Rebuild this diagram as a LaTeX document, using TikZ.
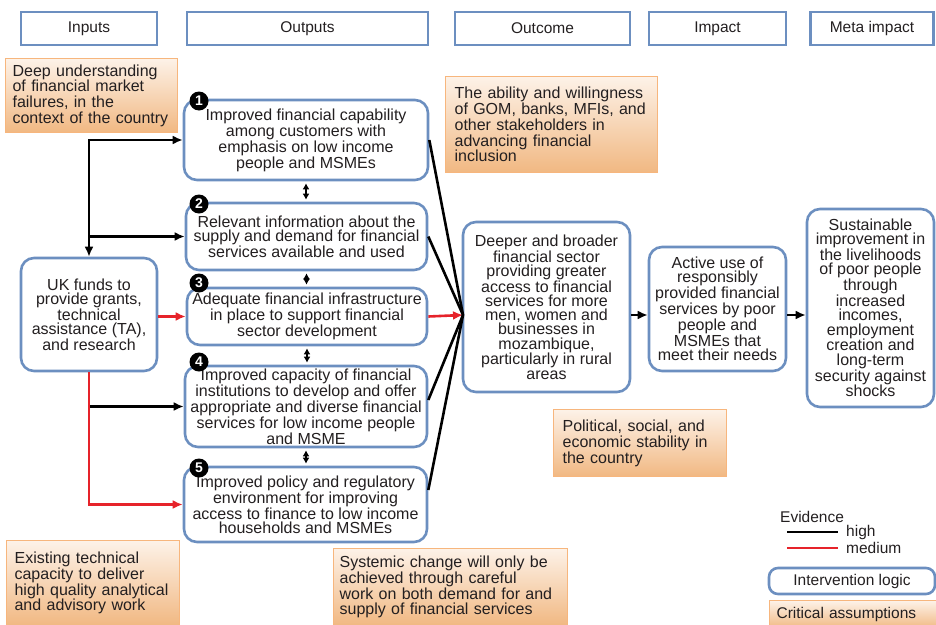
\documentclass[tikz,border=0pt]{standalone}
\usepackage{fontspec}
\setmainfont{Liberation Sans}
\usetikzlibrary{arrows.meta}
\definecolor{logicblue}{RGB}{108,143,192}
\definecolor{textgray}{RGB}{35,31,32}
\definecolor{assumtop}{RGB}{253,242,232}
\definecolor{assumbottom}{RGB}{241,184,130}
\definecolor{assumborder}{RGB}{247,182,125}
\definecolor{mediumred}{RGB}{230,35,42}
\tikzset{
		% Box styles: headers, intervention logic, critical assumptions
		header node/.style={draw=logicblue,line width=2.6pt,minimum height=33pt,inner sep=0pt,text=textgray,font=\fontsize{15.5}{16}\selectfont},
		logic node/.style={draw=logicblue,line width=2.6pt,rounded corners=13pt,fill=white,align=center,inner sep=0pt,text=textgray,font=\fontsize{16}{14.2}\selectfont},
		assumption node/.style={draw=assumborder,line width=1.2pt,top color=assumtop,bottom color=assumbottom,anchor=north west,align=left,inner xsep=7pt,inner ysep=0pt,text=textgray,font=\fontsize{16}{15.8}\selectfont},
		number node/.style={circle,fill=black,inner sep=0pt,minimum size=19pt,text=white,font=\bfseries\fontsize{14}{14}\selectfont},
		legend node/.style={inner sep=0pt,text=textgray,font=\fontsize{15.5}{16}\selectfont},
		% Two link styles for the evidence: high and medium
		high link/.style={draw,black,line width=2.6pt},
		medium link/.style={draw,mediumred,line width=2.6pt},
		both link/.style={draw,black,line width=2pt,{Latex[length=6pt,width=7pt]}-{Latex[length=6pt,width=7pt]},shorten <=2pt,shorten >=2pt}
	}
\begin{document}
\begin{tikzpicture}[x=1pt,y=-1pt,>={Latex[length=10pt,width=9pt]}]
		\useasboundingbox (0,0) rectangle (936,624);
		\clip (0,0) rectangle (936,624);
		% column headers
		\node[header node,minimum width=136pt] (hinputs) at (89,28.5) {Inputs};
		\node[header node,minimum width=241pt] (houtputs) at (307.5,28.5) {Outputs};
		\node[header node,minimum width=175pt] (houtcome) at (542.5,28.5) {Outcome};
		\node[header node,minimum width=137pt] (himpact) at (717.5,28.5) {Impact};
		\node[header node,minimum width=123pt] (hmeta) at (872,28.5) {Meta impact};
		% critical assumptions
		\node[assumption node,minimum width=172pt,minimum height=74pt,text width=158pt] (ass1) at (5,58) {Deep understanding\\of financial market\\failures, in the\\context of the country};
		\node[assumption node,minimum width=212pt,minimum height=96pt,text width=194pt,inner xsep=9pt] (ass2) at (445,76) {The ability and willingness\\of GOM, banks, MFIs, and\\other stakeholders in\\advancing financial\\inclusion};
		\node[assumption node,minimum width=173pt,minimum height=67pt,text width=155pt,inner xsep=9pt] (ass3) at (553,409) {Political, social, and\\economic stability in\\the country};
		\node[assumption node,minimum width=173pt,minimum height=85pt,text width=157pt,inner xsep=8pt] (ass4) at (6,540) {Existing technical\\capacity to deliver\\high quality analytical\\and advisory work};
		\node[assumption node,minimum width=234pt,minimum height=77pt,text width=222pt,inner xsep=6pt] (ass5) at (333,548) {Systemic change will only be\\achieved through careful\\work on both demand for and\\supply of financial services};
		% inputs
		\node[logic node,minimum width=136pt,minimum height=113pt] (input) at (89,314.5) {UK funds to\\provide grants,\\technical\\assistance (TA),\\and research};
		% outputs
		\node[logic node,minimum width=244pt,minimum height=80pt] (out1) at (306,140) {Improved financial capability\\among customers with\\emphasis on low income\\people and MSMEs};
		\node[logic node,minimum width=241pt,minimum height=67pt] (out2) at (306.5,236.5) {Relevant information about the\\supply and demand for financial\\services available and used};
		\node[logic node,minimum width=240pt,minimum height=57pt] (out3) at (307,316.5) {Adequate financial infrastructure\\in place to support financial\\sector development};
		\node[logic node,minimum width=242pt,minimum height=81pt] (out4) at (306,406.5) {Improved capacity of financial\\institutions to develop and offer\\appropriate and diverse financial\\services for low income people\\and MSME};
		\node[logic node,minimum width=243pt,minimum height=75pt] (out5) at (305.5,504.5) {Improved policy and regulatory\\environment for improving\\access to finance to low income\\households and MSMEs};
		\node[number node] (num1) at (199,101) {1};
		\node[number node] (num2) at (199,204) {2};
		\node[number node] (num3) at (199,283) {3};
		\node[number node] (num4) at (199,362) {4};
		\node[number node] (num5) at (199,468) {5};
		% outcome, impact, meta impact
		\node[logic node,minimum width=167pt,minimum height=170pt] (outcome) at (546.5,307) {Deeper and broader\\financial sector\\providing greater\\access to financial\\services for more\\men, women and\\businesses in\\mozambique,\\particularly in rural\\areas};
		\node[logic node,minimum width=137pt,minimum height=124pt] (impact) at (717.5,309) {Active use of\\responsibly\\provided financial\\services by poor\\people and\\MSMEs that\\meet their needs};
		\node[logic node,minimum width=127pt,minimum height=198pt] (meta) at (870.5,308) {Sustainable\\improvement in\\the livelihoods\\of poor people\\through\\increased\\incomes,\\employment\\creation and\\long-term\\security against\\shocks};
		\coordinate (conv) at (463,315);
		% links from the inputs
		\draw[high link,<->] (input.north) |- (out1.west);
		\draw[high link,->] (input.north |- out2.west) -- (out2.west);
		\draw[medium link,->] (input.east |- out3.west) -- (out3.west);
		\draw[high link,->] (input.south |- out4.west) -- (out4.west);
		\draw[medium link,->] (input.south) |- (out5.west);
		% links between the outputs
		\draw[both link] (out1.south) -- (out1.south |- out2.north);
		\draw[both link] (out2.north |- out2.south) -- (out2.north |- out3.north);
		\draw[both link] (out3.north |- out3.south) -- (out3.north |- out4.north);
		\draw[both link] (out4.south) -- (out4.south |- out5.north);
		% links to the outcome
		\draw[high link] (out1.east) -- (conv);
		\draw[high link] (out2.east) -- (conv);
		\draw[medium link,->] (out3.east) -- (conv);
		\draw[high link] ([yshift=6.5pt]out4.east) -- (conv);
		\draw[high link] ([yshift=14.5pt]out5.east) -- (conv);
		\draw[high link,->] (outcome.east |- conv) -- (impact.west |- conv);
		\draw[high link,->] (impact.east |- conv) -- (meta.west |- conv);
		% legend
		\node[legend node,anchor=west] (evidence) at (780,517) {Evidence};
		\coordinate (high a) at (787,532);
		\coordinate (high b) at (838,532);
		\coordinate (medium a) at (787,548);
		\coordinate (medium b) at (838,548);
		\draw[high link,line width=2pt] (high a) -- (high b);
		\draw[medium link,line width=2pt] (medium a) -- (medium b);
		\node[legend node,anchor=west] (high lbl) at (846,532) {high};
		\node[legend node,anchor=west] (medium lbl) at (846,548) {medium};
		\node[logic node,minimum width=166pt,minimum height=26pt,rounded corners=9pt,font=\fontsize{15.5}{16}\selectfont] (logic lgd) at (852,581) {Intervention logic};
		\node[assumption node,minimum width=170pt,minimum height=28pt,text width=156pt,font=\fontsize{15.5}{16}\selectfont] (assum lgd) at (769,600) {Critical assumptions};
	\end{tikzpicture}
\end{document}
